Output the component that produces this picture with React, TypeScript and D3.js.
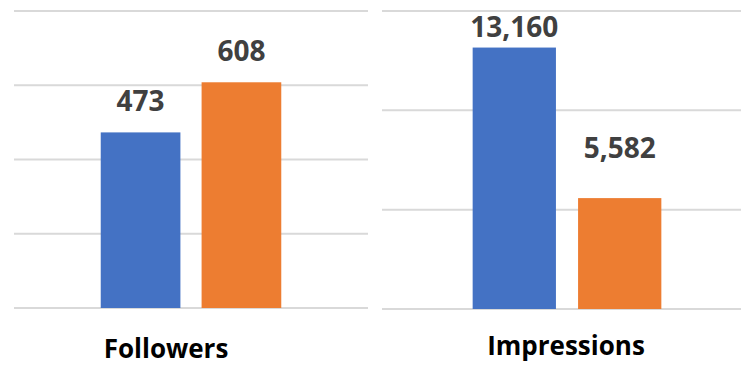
import React from "react";
import * as d3 from "d3";

// Data
const series = ["Before", "After"];
const followersValues = [473, 608];
const impressionsValues = [13160, 5582];
const followersTicks = [0, 200, 400, 600, 800];
const impressionsTicks = [0, 5000, 10000, 15000];
const categories = ["Followers", "Impressions"];
const colors = ["#4472C4", "#ED7D31"];

const W = 741;
const H = 366;
const fmt = d3.format(",");

type Panel = {
  name: string;
  values: number[];
  ticks: number[];
  x0: number;
  x1: number;
  lineEnd: number;
  yTop: number;
  yBottom: number;
  labelX: number;
  labelY: number;
  gaps: number[];
};

const panels: Panel[] = [
  {
    name: categories[0],
    values: followersValues,
    ticks: followersTicks,
    x0: 14,
    x1: 368,
    lineEnd: 368,
    yTop: 11,
    yBottom: 308,
    labelX: 166,
    labelY: 358,
    gaps: [21, 21],
  },
  {
    name: categories[1],
    values: impressionsValues,
    ticks: impressionsTicks,
    x0: 382,
    x1: 752,
    lineEnd: 741,
    yTop: 11,
    yBottom: 309,
    labelX: 566,
    labelY: 355,
    gaps: [10.5, 40],
  },
];

function PanelView({ p }: { p: Panel }) {
  const y = d3
    .scaleLinear()
    .domain([0, p.ticks[p.ticks.length - 1]])
    .range([p.yBottom, p.yTop]);
  const x = d3
    .scaleBand<string>()
    .domain(series)
    .range([p.x0, p.x1])
    .paddingInner(0.21)
    .paddingOuter(0.86);
  return (
    <g>
      {p.ticks.map((t) => (
        <line
          key={t}
          x1={p.x0}
          x2={p.lineEnd}
          y1={y(t)}
          y2={y(t)}
          stroke="#d9d9d9"
          strokeWidth={2}
        />
      ))}
      {p.values.map((v, i) => (
        <rect
          key={i}
          x={x(series[i])!}
          y={y(v)}
          width={x.bandwidth()}
          height={y(0) - y(v)}
          fill={colors[i]}
        />
      ))}
      {p.values.map((v, i) => (
        <text
          key={"l" + i}
          x={x(series[i])! + x.bandwidth() / 2}
          y={y(v) - p.gaps[i]}
          textAnchor="middle"
          fontFamily="'Open Sans', sans-serif"
          fontWeight={700}
          fontSize={28}
          fill="#404040"
        >
          {fmt(v)}
        </text>
      ))}
      <text
        x={p.labelX}
        y={p.labelY}
        textAnchor="middle"
        fontFamily="'Open Sans', sans-serif"
        fontWeight={700}
        fontSize={26}
        fill="#000"
      >
        {p.name}
      </text>
    </g>
  );
}

export default function App() {
  return (
    <svg
      width={W}
      height={H}
      style={{ position: "absolute", left: 0, top: 0, background: "#fff" }}
    >
      <rect width={W} height={H} fill="#fff" />
      {panels.map((p) => (
        <PanelView key={p.name} p={p} />
      ))}
    </svg>
  );
}
